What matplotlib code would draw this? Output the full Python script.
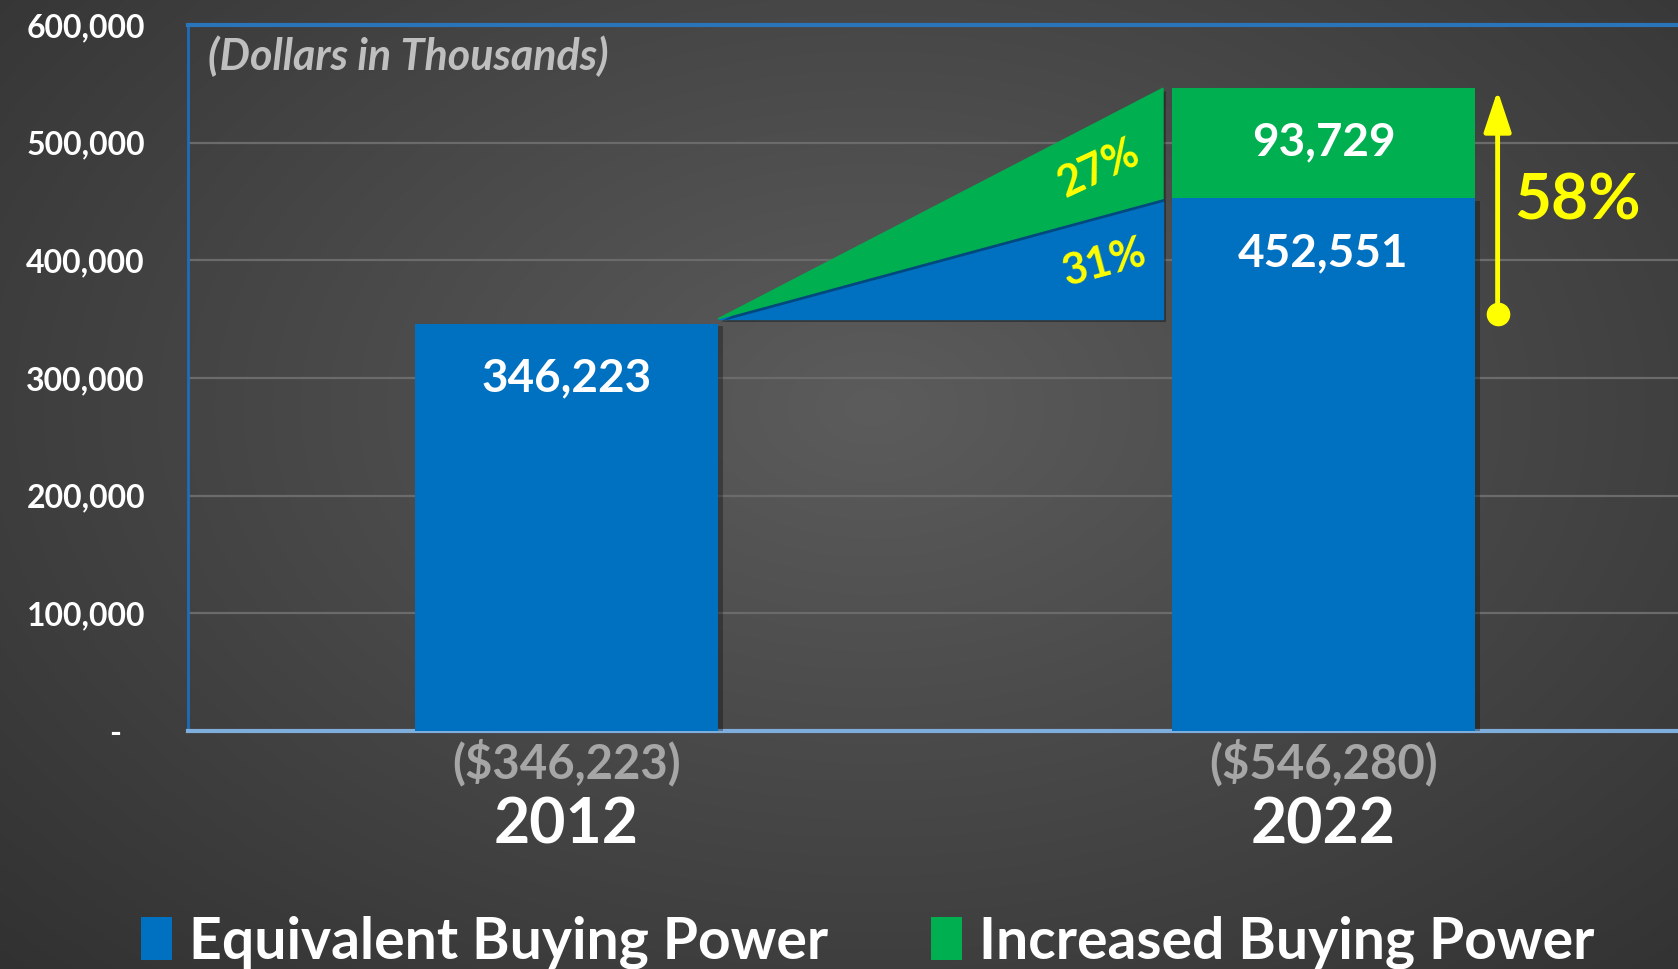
import matplotlib
matplotlib.use("Agg")
import matplotlib.pyplot as plt
import matplotlib.patheffects as pe
import numpy as np

plt.rcParams["font.family"] = ["Lato", "DejaVu Sans"]

# ── data ────────────────────────────────────────────────────────────────────
YEARS = ["2012", "2022"]
TOTAL_LABELS = ["($346,223)", "($546,280)"]
EQUIVALENT = [346223, 452551]
INCREASED = [0, 93729]
PCT_EQUIV = "31%"
PCT_INCR = "27%"
PCT_TOTAL = "58%"
Y_TICKS = [0, 100000, 200000, 300000, 400000, 500000, 600000]
Y_TICK_LABELS = ["-   ", "100,000", "200,000", "300,000", "400,000", "500,000", "600,000"]

# ── colours ─────────────────────────────────────────────────────────────────
BLUE = "#0070C0"
GREEN = "#00B050"
YELLOW = "#FFFF00"
WHITE = "#FFFFFF"
GRAYTXT = "#A6A6A6"
GRID = "#6B6B6B"

W, H, DPI = 1678, 969, 100
fig = plt.figure(figsize=(W / DPI, H / DPI), dpi=DPI)

# radial gradient background
bg = fig.add_axes([0, 0, 1, 1], zorder=-10)
yy, xx = np.mgrid[0:H, 0:W]
r = np.sqrt(((xx - 0.52 * W) / (0.75 * W)) ** 2 + ((yy - 0.42 * H) / (0.85 * H)) ** 2)
r = np.clip(r, 0, 1)
c_in, c_out = np.array([0x5C, 0x5C, 0x5C]) / 255, np.array([0x30, 0x30, 0x30]) / 255
img = c_in[None, None, :] * (1 - r[..., None]) + c_out[None, None, :] * r[..., None]
bg.imshow(img, aspect="auto", extent=[0, 1, 0, 1])
bg.axis("off")

ax_left = 188 / W
ax_bottom = 1 - 731 / H
ax_h = (731 - 25) / H
ax_w = 1514 / W
ax = fig.add_axes([ax_left, ax_bottom, ax_w, ax_h])
ax.patch.set_alpha(0)
ax.set_xlim(-0.5, 1.5)
ax.set_ylim(0, 600000)

x = np.arange(len(YEARS))
bw = 0.4
shadow = [pe.SimplePatchShadow(offset=(4, -2), alpha=0.3, shadow_rgbFace="black"), pe.Normal()]
b1 = ax.bar(x, EQUIVALENT, bw, color=BLUE, zorder=3, label="Equivalent Buying Power")
b2 = ax.bar(x, INCREASED, bw, bottom=EQUIVALENT, color=GREEN, zorder=4,
            label="Increased Buying Power")
for p in b1:
    p.set_path_effects(shadow)

# wedge between bars
x0 = x[0] + bw / 2
x1 = x[1] - bw / 2 - 0.012
base = EQUIVALENT[0] + 4000
top_b = EQUIVALENT[1]
top_g = EQUIVALENT[1] + INCREASED[1]
wedge_fx = [pe.SimplePatchShadow(offset=(2, -2), alpha=0.35, shadow_rgbFace="black"), pe.Normal()]
blue_wedge = ax.fill([x0, x1, x1], [base, base, top_b], color=BLUE, zorder=3)[0]
green_wedge = ax.fill([x0, x1, x1], [base, top_b, top_g], color=GREEN, zorder=3)[0]
for w in (blue_wedge, green_wedge):
    w.set_path_effects(wedge_fx)

ax.text(0.703, 478000, PCT_INCR, color=YELLOW, fontsize=31, fontweight="bold",
        ha="center", va="center", rotation=25, zorder=5)
ax.text(0.71, 398000, PCT_EQUIV, color=YELLOW, fontsize=31, fontweight="bold",
        ha="center", va="center", rotation=15, zorder=5)

# value labels
ax.text(x[0], 300000, f"{EQUIVALENT[0]:,}", color=WHITE, fontsize=33, fontweight="bold",
        ha="center", va="center", zorder=5)
ax.text(x[1], 406000, f"{EQUIVALENT[1]:,}", color=WHITE, fontsize=33, fontweight="bold",
        ha="center", va="center", zorder=5)
ax.text(x[1], 500000, f"{INCREASED[1]:,}", color=WHITE, fontsize=33, fontweight="bold",
        ha="center", va="center", zorder=5)

# 58% arrow
ax_x = 1.23
ax.annotate("", xy=(ax_x, top_g - 2000), xytext=(ax_x, EQUIVALENT[0] + 8000),
            arrowprops=dict(arrowstyle="-|>,head_length=0.9,head_width=0.3", color=YELLOW,
                            lw=3.5, mutation_scale=28, shrinkA=0, shrinkB=0), zorder=6)
ax.plot([ax_x], [EQUIVALENT[0] + 8000], "o", color=YELLOW, ms=16, zorder=6)
ax.text(1.335, 450000, PCT_TOTAL, color=YELLOW, fontsize=46, fontweight="bold",
        ha="center", va="center", zorder=6)

# grid & spines
ax.set_yticks(Y_TICKS)
ax.set_yticklabels(Y_TICK_LABELS, color=WHITE, fontsize=23, fontweight="bold")
ax.tick_params(axis="y", length=0, pad=31)
ax.set_xticks([])
ax.grid(axis="y", color=GRID, lw=1.6, zorder=0)
ax.set_axisbelow(True)
ax.spines["left"].set_color("#1F6CB8")
ax.spines["left"].set_linewidth(2)
ax.spines["top"].set_color("#2A74BA")
ax.spines["top"].set_linewidth(3)
ax.spines["bottom"].set_color("#7FAEDC")
ax.spines["bottom"].set_linewidth(3)
ax.spines["right"].set_visible(False)

ax.text(0.013, 0.985, "(Dollars in Thousands)", transform=ax.transAxes, color="#BFBFBF",
        fontsize=31, fontweight="bold", style="italic", ha="left", va="top")

# category labels below axis
for i in range(len(YEARS)):
    ax.text(x[i], -27000, TOTAL_LABELS[i], color=GRAYTXT, fontsize=34, fontweight="bold",
            ha="center", va="center", clip_on=False)
    ax.text(x[i], -80000, YEARS[i], color=WHITE, fontsize=45, fontweight="bold",
            ha="center", va="center", clip_on=False)

leg = fig.legend(handles=[b1, b2], loc="center", bbox_to_anchor=(0.517, 0.028), ncol=2,
                 frameon=False, handlelength=0.55, handleheight=0.8,
                 handletextpad=0.3, columnspacing=1.8, labelcolor=WHITE,
                 prop={"weight": "bold", "size": 41})
for h in leg.legend_handles:
    h.set_path_effects([])

fig.savefig("out.png", dpi=DPI)
